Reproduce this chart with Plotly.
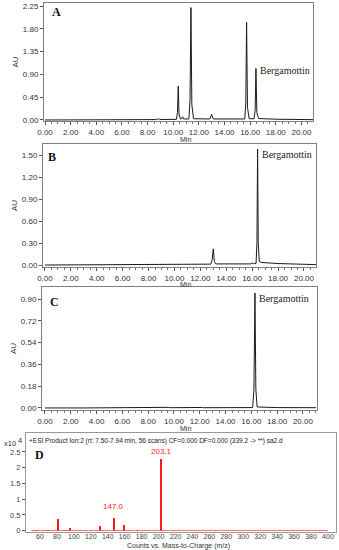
import plotly.graph_objects as go

# ---------------- data ----------------
# Panel A chromatogram (time in min, absorbance AU)
tA = [0.0, 6.0, 8.7, 8.83, 8.95, 10.25, 10.33, 10.39, 10.45, 10.55, 10.66, 10.73, 10.8,
      11.22, 11.31, 11.38, 11.45, 11.58, 12.85, 12.99, 13.12, 15.58, 15.66, 15.72, 15.79,
      15.92, 16.3, 16.39, 16.45, 16.52, 16.65, 17.0, 17.85, 17.95, 18.05, 21.0]
yA = [0.0, 0.003, 0.008, 0.025, 0.01, 0.012, 0.15, 0.67, 0.12, 0.02, 0.03, 0.065, 0.02,
      0.02, 0.4, 2.22, 0.3, 0.025, 0.02, 0.11, 0.02, 0.02, 0.35, 1.93, 0.25,
      0.025, 0.025, 0.2, 1.02, 0.15, 0.03, 0.025, 0.018, 0.028, 0.015, 0.006]

# Panel B chromatogram
tB = [0.0, 9.0, 10.5, 11.3, 11.4, 12.8, 12.9, 13.0, 13.08, 13.2, 15.9, 16.0, 16.1,
      16.3, 16.37, 16.42, 16.47, 16.55, 16.7, 18.0, 21.0]
yB = [0.0, 0.004, 0.008, 0.012, 0.01, 0.012, 0.06, 0.22, 0.05, 0.015, 0.015, 0.03, 0.018,
      0.02, 0.3, 1.58, 0.3, 0.05, 0.035, 0.02, 0.005]

# Panel C chromatogram
tC = [0.0, 3.0, 3.1, 9.6, 9.7, 12.2, 12.3, 16.1, 16.2, 16.28, 16.35, 16.45, 18.0, 21.0]
yC = [0.0, 0.004, 0.0, 0.005, 0.002, 0.004, 0.002, 0.003, 0.15, 0.95, 0.15, 0.008, 0.003, 0.002]

# Panel D MS/MS spectrum (m/z, counts x10^4)
mzD = [52, 55, 69, 81, 91, 95, 131, 147, 159, 175, 203.1]
intD = [0.01, 0.015, 0.03, 0.36, 0.03, 0.09, 0.15, 0.41, 0.19, 0.03, 2.29]
baseMz = [50, 400]
baseInt = [0.008, 0.008]

xTicksChrom = [0, 2, 4, 6, 8, 10, 12, 14, 16, 18, 20]
yTicksA = [0, 0.45, 0.90, 1.35, 1.80, 2.25]
yTicksB = [0, 0.30, 0.60, 0.90, 1.20, 1.50]
yTicksC = [0, 0.18, 0.36, 0.54, 0.72, 0.90]
xTicksD = list(range(60, 401, 20))
yTicksD = [0, 0.5, 1, 1.5, 2, 2.5]
yTickTextD = ["0", "0.5", "1", "1.5", "2", "2.5"]

peakLabelA = (16.6, 0.98)
peakLabelB = (16.6, 1.51)
peakLabelC = (16.4, 0.905)
msLabels = [(147.0, 0.78, "147.0"), (203.1, 2.5, "203.1")]

W, H = 339, 550

def fx(px):
    return px / W

def fy(py):
    return 1 - py / H

TICKFONT = dict(family="Liberation Sans, Arial", size=8, color="#333333")
FRAME = "#808080"
LINE = "#1a1a1a"

fig = go.Figure()
fig.add_trace(go.Scatter(x=tA, y=yA, mode="lines", line=dict(color=LINE, width=1),
                         xaxis="x", yaxis="y", showlegend=False, hoverinfo="skip"))
fig.add_trace(go.Scatter(x=tB, y=yB, mode="lines", line=dict(color=LINE, width=1),
                         xaxis="x2", yaxis="y2", showlegend=False, hoverinfo="skip"))
fig.add_trace(go.Scatter(x=tC, y=yC, mode="lines", line=dict(color=LINE, width=1),
                         xaxis="x3", yaxis="y3", showlegend=False, hoverinfo="skip"))
fig.add_trace(go.Scatter(x=baseMz, y=baseInt, mode="lines", line=dict(color="#ff5050", width=0.8),
                         xaxis="x4", yaxis="y4", showlegend=False, hoverinfo="skip"))
fig.add_trace(go.Bar(x=mzD, y=intD, width=2.2, marker=dict(color="#ff1a1a", line=dict(width=0)),
                     xaxis="x4", yaxis="y4", showlegend=False, hoverinfo="skip"))


def chrom_x(dom, rng, anchor):
    return dict(domain=dom, range=rng, tickvals=xTicksChrom, anchor=anchor,
                ticktext=["%.2f" % v for v in xTicksChrom], ticks="outside", ticklen=3,
                tickcolor="#555", tickfont=TICKFONT, showgrid=False, zeroline=False,
                showline=True, linecolor=FRAME, linewidth=1, mirror=True, automargin=False,
                minor=dict(dtick=0.5, ticks="outside", ticklen=2, tickcolor="#777"))


def chrom_y(dom, rng, vals, anchor):
    return dict(domain=dom, range=rng, tickvals=vals, ticktext=["%.2f" % v for v in vals],
                ticks="outside", ticklen=3, tickcolor="#555", tickfont=TICKFONT,
                showgrid=False, zeroline=False, showline=True, linecolor=FRAME,
                linewidth=1, mirror=True, anchor=anchor, automargin=False,
                title=dict(text="AU", font=TICKFONT, standoff=3))

DFONT = dict(family="Liberation Sans, Arial", size=7, color="#444444")
layout = dict(
    width=W, height=H, margin=dict(l=0, r=0, t=0, b=0, autoexpand=False),
    paper_bgcolor="white", plot_bgcolor="white", bargap=0,
    xaxis=chrom_x([fx(44), fx(313)], [-0.08, 20.9], "y"),
    yaxis=chrom_y([fy(121), fy(3)], [-0.02, 2.31], yTicksA, "x"),
    xaxis2=chrom_x([fx(43), fx(316)], [-0.15, 20.93], "y2"),
    yaxis2=chrom_y([fy(267), fy(144)], [-0.027, 1.65], yTicksB, "x2"),
    xaxis3=chrom_x([fx(42), fx(317)], [-0.23, 21.09], "y3"),
    yaxis3=chrom_y([fy(410), fy(287)], [-0.017, 1.0], yTicksC, "x3"),
    xaxis4=dict(domain=[fx(26), fx(336)], range=[43.5, 409.5], tickvals=xTicksD,
                ticks="", ticklabelstandoff=-2, tickfont=DFONT,
                showgrid=False, zeroline=False, showline=True, linecolor="#999",
                linewidth=1, mirror=True, anchor="y4", automargin=False),
    yaxis4=dict(domain=[fy(532), fy(433)], range=[-0.04, 3.1], tickvals=yTicksD,
                ticktext=yTickTextD, ticks="outside", ticklen=3, tickcolor="#555",
                tickfont=dict(family="Liberation Sans, Arial", size=7.5, color="#444444"),
                showgrid=False, zeroline=False, showline=True, linecolor="#999",
                linewidth=1, mirror=True, anchor="x4", automargin=False),
)
fig.update_layout(layout)

ann = []
MINFONT = dict(family="Liberation Sans, Arial", size=7, color="#333333")
for py in (140, 284, 428):
    ann.append(dict(text="Min", x=fx(185), y=fy(py), xref="paper", yref="paper",
                    showarrow=False, font=MINFONT, xanchor="center", yanchor="middle"))

LETTER = dict(family="Liberation Serif, Times New Roman", size=12, color="#111111")
for letter, px_, py_ in (("A", 56, 12), ("B", 52, 157), ("C", 54, 302), ("D", 39, 455)):
    ann.append(dict(text="<b>%s</b>" % letter, x=fx(px_), y=fy(py_), xref="paper", yref="paper",
                    showarrow=False, font=LETTER, xanchor="center", yanchor="middle"))

BFONT = dict(family="Liberation Serif, Times New Roman", size=10, color="#222222")
for (px_, py_), xr, yr in ((peakLabelA, "x", "y"), (peakLabelB, "x2", "y2"), (peakLabelC, "x3", "y3")):
    ann.append(dict(text="Bergamottin", x=px_, y=py_, xref=xr, yref=yr, showarrow=False,
                    font=BFONT, xanchor="left", yanchor="middle"))

for mx, my, txt in msLabels:
    ann.append(dict(text=txt, x=mx, y=my, xref="x4", yref="y4", showarrow=False,
                    font=dict(family="Liberation Sans, Arial", size=8, color="#ff2020"),
                    xanchor="center", yanchor="middle"))

ann.append(dict(text="+ESI Product Ion:2 (rt: 7.50-7.94 min, 56 scans) CF=0.000 DF=0.000 (339.2 -> **) sa2.d",
                x=fx(27), y=fy(441), xref="paper", yref="paper", showarrow=False,
                font=dict(family="Liberation Sans, Arial", size=6.5, color="#222222"),
                xanchor="left", yanchor="middle"))
ann.append(dict(text="x10", x=fx(2), y=fy(443), xref="paper", yref="paper", showarrow=False,
                font=dict(family="Liberation Sans, Arial", size=7.5, color="#333333"),
                xanchor="left", yanchor="middle"))
ann.append(dict(text="4", x=fx(20), y=fy(441), xref="paper", yref="paper", showarrow=False,
                font=dict(family="Liberation Sans, Arial", size=7.5, color="#333333"),
                xanchor="center", yanchor="middle"))
ann.append(dict(text="Counts vs. Mass-to-Charge (m/z)", x=fx(178), y=fy(546), xref="paper",
                yref="paper", showarrow=False,
                font=dict(family="Liberation Sans, Arial", size=7, color="#333333"),
                xanchor="center", yanchor="middle"))

fig.update_layout(annotations=ann)
fig.write_html("out.html", config={"displayModeBar": False, "staticPlot": True},
               post_script="document.body.style.margin='0';document.body.style.overflow='hidden';")
